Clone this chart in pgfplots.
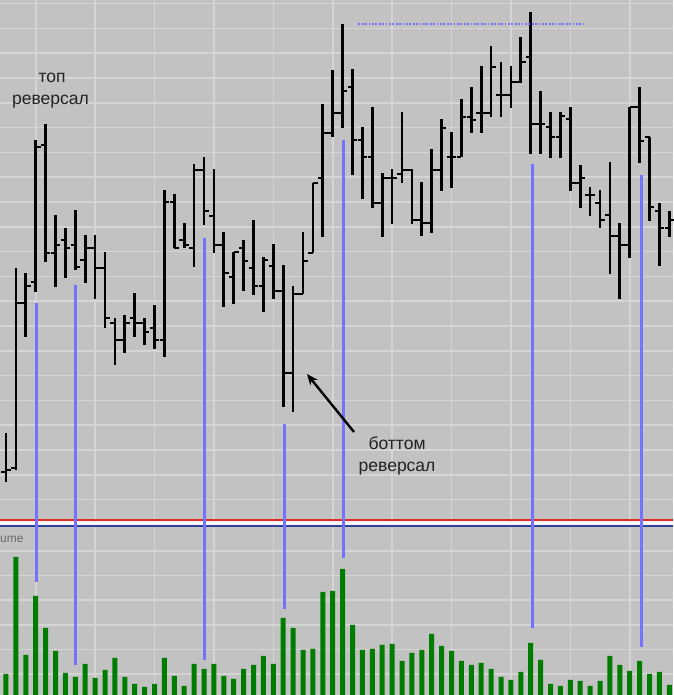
\documentclass[border=0pt]{standalone}
\usepackage{fontspec}
\setmainfont{Liberation Sans}
\usepackage{pgfplots}
\pgfplotsset{compat=1.18}
\usepackage{pgfplotstable}
\usetikzlibrary{arrows.meta}

\definecolor{bgc}{RGB}{194,194,194}
\definecolor{gridc}{RGB}{213,213,213}
\definecolor{volc}{RGB}{0,125,0}
\definecolor{markc}{RGB}{115,115,255}
\definecolor{redl}{RGB}{228,40,40}
\definecolor{bluel}{RGB}{45,65,155}
\definecolor{txtc}{RGB}{35,35,35}

\pgfdeclareplotmark{otick}{\pgfpathmoveto{\pgfqpoint{-4.8pt}{0pt}}\pgfpathlineto{\pgfqpoint{0pt}{0pt}}\pgfusepathqstroke}
\pgfdeclareplotmark{ctick}{\pgfpathmoveto{\pgfqpoint{0pt}{0pt}}\pgfpathlineto{\pgfqpoint{4.8pt}{0pt}}\pgfusepathqstroke}

% bar index, open, high, low, close
\pgfplotstableread{
i o h l c
0 48 87 38 50
1 52 252 50 217
2 217 247 183 234
3 238 380 228 373
4 375 396 258 267
5 267 305 233 275
6 280 292 242 272
7 275 310 250 253
8 260 285 237 272
9 272 285 221 252
10 252 268 192 202
11 197 202 155 180
12 180 205 167 197
13 202 227 183 197
14 197 202 175 188
15 192 215 171 180
16 180 330 163 318
17 318 326 272 272
18 280 297 272 275
19 272 356 253 350
20 350 363 295 309
21 304 351 267 275
22 275 288 213 247
23 243 268 216 268
24 272 280 229 259
25 252 300 225 234
26 234 263 208 260
27 254 276 221 229
28 229 255 113 147
29 147 234 108 226
30 226 288 226 259
31 267 337 267 337
32 342 416 283 387
33 387 450 383 407
34 407 496 392 429
35 433 451 345 380
36 380 393 321 363
37 363 413 312 317
38 317 347 283 342
39 342 351 296 342
40 346 408 337 350
41 350 351 296 300
42 300 338 284 297
43 297 371 287 350
44 350 401 329 392
45 363 388 332 363
46 363 421 363 403
47 403 433 387 400
48 407 454 387 407
49 407 474 403 453
50 425 458 403 425
51 425 454 412 438
52 438 483 437 458
53 463 508 366 396
54 396 429 366 396
55 393 408 362 383
56 383 408 362 404
57 401 413 329 337
58 337 355 312 342
59 325 333 304 325
60 317 330 292 300
61 305 358 246 284
62 284 297 221 275
63 275 413 262 413
64 413 433 357 379
65 383 383 299 313
66 309 317 254 292
67 292 309 283 300
}\ohlc

% bar index, volume
\pgfplotstableread{
i v
0 21
1 138
2 40
3 99
4 67
5 44
6 22
7 18
8 31
9 17
10 25
11 37
12 18
13 11
14 8
15 11
16 37
17 19
18 9
19 31
20 26
21 31
22 19
23 16
24 26
25 30
26 39
27 31
28 77
29 67
30 45
31 46
32 103
33 104
34 126
35 70
36 45
37 46
38 50
39 51
40 34
41 42
42 45
43 61
44 49
45 44
46 34
47 30
48 32
49 26
50 18
51 15
52 23
53 52
54 35
55 11
56 9
57 15
58 14
59 9
60 14
61 39
62 30
63 24
64 34
65 21
66 23
67 10
}\vol

\pgfplotsset{chartpanel/.style={
  scale only axis, width=673pt,
  xmin=-0.606, xmax=67.37,
  axis background/.style={fill=bgc},
  axis line style={draw=none},
  major tick length=0pt,
  xticklabels={}, yticklabels={},
  xtick={3,9,...,63},
  grid=major,
  major grid style={gridc, line width=1.6pt},
}}

\begin{document}
\begin{tikzpicture}
% volume panel
\begin{axis}[chartpanel, at={(0pt,0pt)}, anchor=south west,
  height=169pt, ymin=0, ymax=169, ytick={21,45.6,...,150}]
\addplot[ybar, bar width=5pt, fill=volc, draw=none] table[x=i, y=v] {\vol};
\node[anchor=west, inner sep=0pt, font=\fontsize{12}{14}\selectfont, text=black!58] at (axis cs:-0.606,156) {ume};
\end{axis}

% price panel
\begin{axis}[chartpanel, at={(0pt,176pt)}, anchor=south west,
  height=519pt, ymin=1, ymax=520, ytick={20.4,45.2,...,520}, clip=false]
% high-low range as error bars round the open tick
\addplot[black, only marks, mark=otick, mark options={line width=2.4pt},
  error bars/.cd, y dir=both, y explicit, error mark=none,
  error bar style={line width=2.7pt, black}]
  table[x=i, y=o,
    y error plus expr=\thisrow{h}-\thisrow{o},
    y error minus expr=\thisrow{o}-\thisrow{l}] {\ohlc};
\addplot[black, only marks, mark=ctick, mark options={line width=2.4pt}] table[x=i, y=c] {\ohlc};

% separator between the panels
\fill[white!88!bgc] (axis cs:-0.606,1) rectangle (axis cs:67.37,-6.5);
\draw[redl, line width=2pt] (axis cs:-0.606,0.2) -- (axis cs:67.37,0.2);
\draw[bluel, line width=1.6pt] (axis cs:-0.606,-5.8) -- (axis cs:67.37,-5.8);

% reversal markers
\draw[markc, line width=3pt] (axis cs:3.13,217) -- (axis cs:3.13,-62);
\draw[markc, line width=3pt] (axis cs:7.07,235) -- (axis cs:7.07,-145);
\draw[markc, line width=3pt] (axis cs:20,282) -- (axis cs:20,-140);
\draw[markc, line width=3pt] (axis cs:28.08,96) -- (axis cs:28.08,-89);
\draw[markc, line width=3pt] (axis cs:34.04,380) -- (axis cs:34.04,-38);
\draw[markc, line width=3pt] (axis cs:53.13,356) -- (axis cs:53.13,-108);
\draw[markc, line width=3pt] (axis cs:64.14,345) -- (axis cs:64.14,-127);
\draw[markc, line width=1.8pt, dash pattern=on 1.8pt off 1.6pt] (axis cs:35.6,496) -- (axis cs:58.4,496);

\node[anchor=base, font=\fontsize{17.5}{21}\selectfont, text=txtc] at (axis cs:4.65,437) {топ};
\node[anchor=base, font=\fontsize{17.5}{21}\selectfont, text=txtc] at (axis cs:4.5,415) {реверсал};
\node[anchor=base, font=\fontsize{17.5}{21}\selectfont, text=txtc] at (axis cs:39.5,70) {боттом};
\node[anchor=base, font=\fontsize{17.5}{21}\selectfont, text=txtc] at (axis cs:39.5,48) {реверсал};
\draw[-{Stealth[length=11pt,width=9pt]}, line width=2.4pt, black] (axis cs:35.15,88) -- (axis cs:30.4,146);
\end{axis}
\pgfresetboundingbox
\path[use as bounding box] (0pt,0pt) rectangle (673pt,695pt);
\end{tikzpicture}
\end{document}
